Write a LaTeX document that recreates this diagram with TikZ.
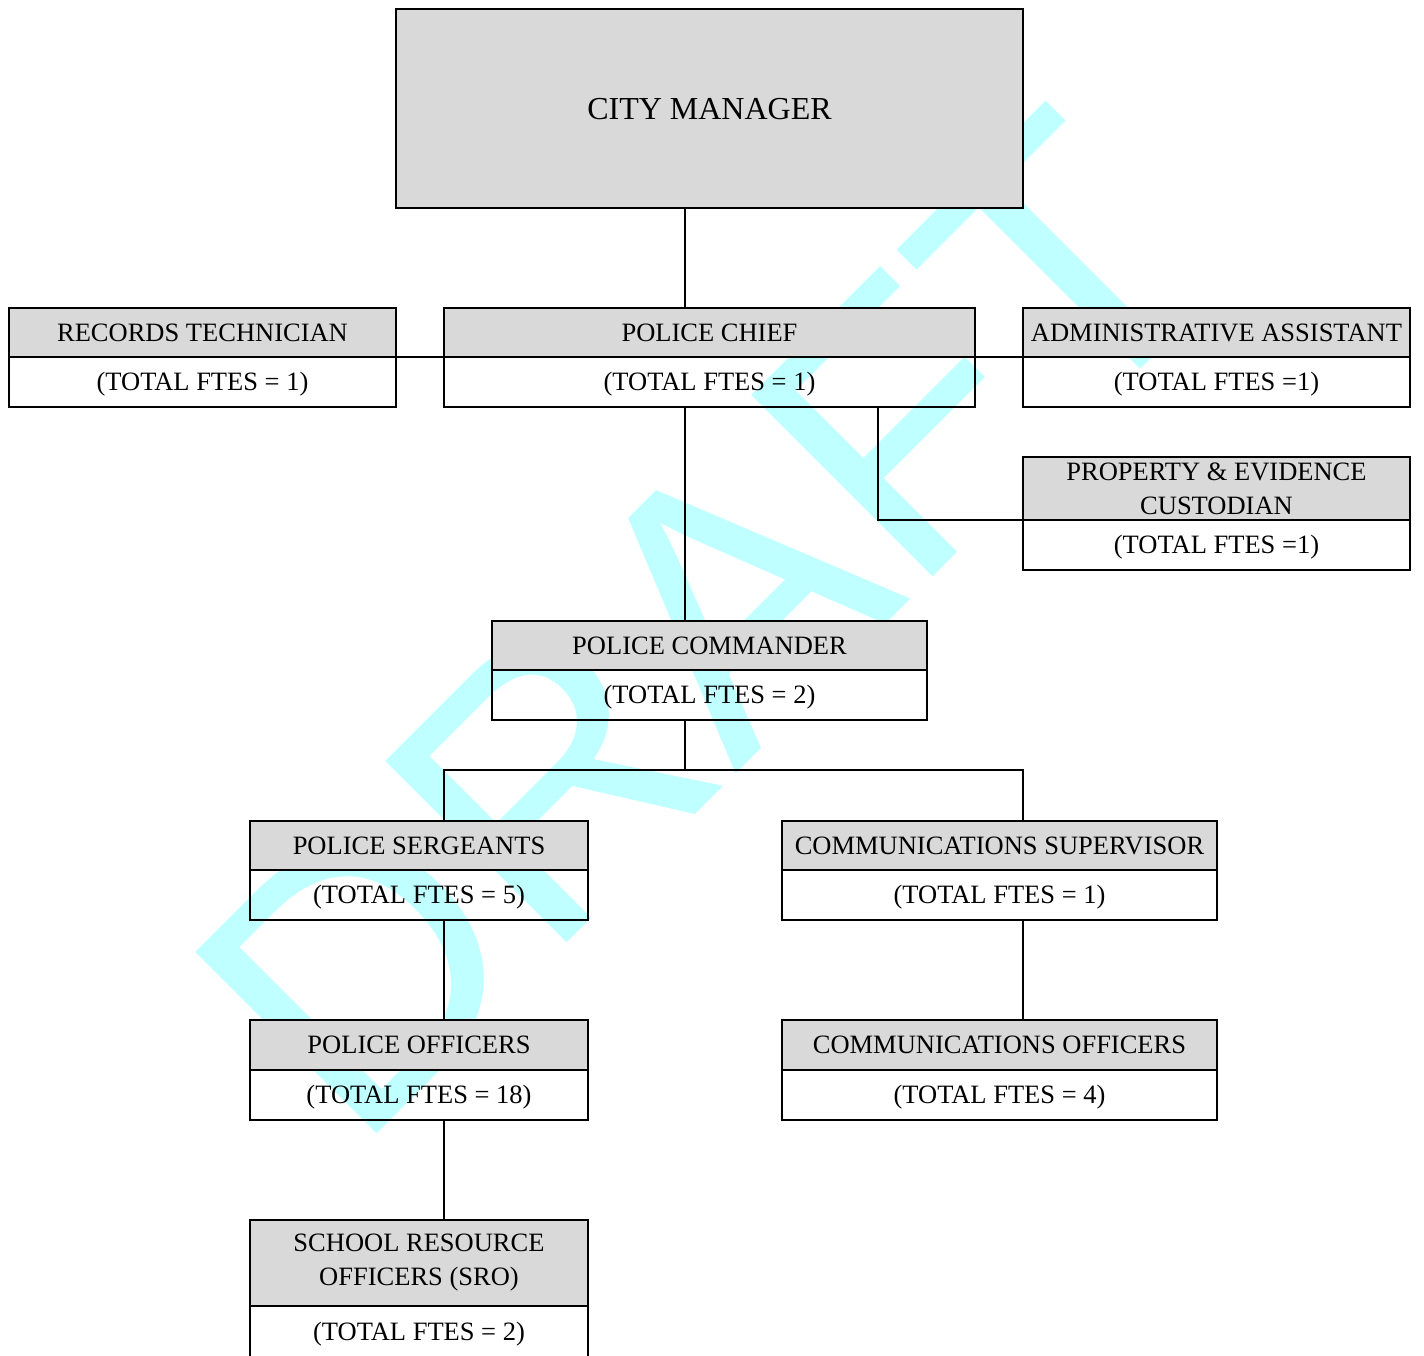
\documentclass[tikz,border=0pt]{standalone}
\usepackage{fontspec}
\setmainfont{Liberation Serif}
\newfontfamily\wmfont{Liberation Sans}
\definecolor{hdrgray}{RGB}{217,217,217}
\definecolor{wmcyan}{RGB}{191,255,255}
\begin{document}
\begin{tikzpicture}[x=1pt,y=-1pt,
  box/.style={draw=black, line width=2pt, inner sep=0pt, outer sep=0pt,
    anchor=north west, font=\fontsize{26.5}{34}\selectfont},
  one/.style={text height=17.5pt, text depth=0pt},
  two/.style={align=center},
  hdr/.style={box, fill=hdrgray},
  body/.style={box, one},
  conn/.style={draw=black, line width=2pt},
  wm/.style={anchor=base west, rotate=45, inner sep=0pt, outer sep=0pt,
    text=wmcyan, font=\wmfont\fontsize{373}{373}\selectfont}
]
\useasboundingbox (0,0) rectangle (1424,1355);
\clip (0,0) rectangle (1424,1355);
\fill[white] (0,0) rectangle (1424,1355);

% watermark
\node[wm] (draft) at (355,1155) {DRAFT};

% boxes
\node[hdr, minimum width=627pt, minimum height=199pt,
  font=\fontsize{32}{38}\selectfont, text height=21.2pt, text depth=0pt]
  (cm) at (396,9) {CITY MANAGER};

\node[hdr, one, minimum width=387pt, minimum height=49pt] (rech) at (9,308) {RECORDS TECHNICIAN};
\node[body, minimum width=387pt, minimum height=50pt] (recb) at (9,357) {(TOTAL FTES = 1)};

\node[hdr, one, minimum width=531pt, minimum height=49pt] (chiefh) at (444,308) {POLICE CHIEF};
\node[body, minimum width=531pt, minimum height=50pt] (chiefb) at (444,357) {(TOTAL FTES = 1)};

\node[hdr, one, minimum width=387pt, minimum height=49pt] (admh) at (1023,308) {ADMINISTRATIVE ASSISTANT};
\node[body, minimum width=387pt, minimum height=50pt] (admb) at (1023,357) {(TOTAL FTES =1)};

\node[hdr, two, minimum width=387pt, minimum height=63pt] (proph) at (1023,457) {PROPERTY \& EVIDENCE\\CUSTODIAN};
\node[body, minimum width=387pt, minimum height=50pt] (propb) at (1023,520) {(TOTAL FTES =1)};

\node[hdr, one, minimum width=435pt, minimum height=49pt] (cmdh) at (492,621) {POLICE COMMANDER};
\node[body, minimum width=435pt, minimum height=50pt] (cmdb) at (492,670) {(TOTAL FTES = 2)};

\node[hdr, one, minimum width=338pt, minimum height=49pt] (sgth) at (250,821) {POLICE SERGEANTS};
\node[body, minimum width=338pt, minimum height=50pt] (sgtb) at (250,870) {(TOTAL FTES = 5)};

\node[hdr, one, minimum width=435pt, minimum height=49pt] (csuph) at (782,821) {COMMUNICATIONS SUPERVISOR};
\node[body, minimum width=435pt, minimum height=50pt] (csupb) at (782,870) {(TOTAL FTES = 1)};

\node[hdr, one, minimum width=338pt, minimum height=50pt] (offh) at (250,1020) {POLICE OFFICERS};
\node[body, minimum width=338pt, minimum height=50pt] (offb) at (250,1070) {(TOTAL FTES = 18)};

\node[hdr, one, minimum width=435pt, minimum height=50pt] (coffh) at (782,1020) {COMMUNICATIONS OFFICERS};
\node[body, minimum width=435pt, minimum height=50pt] (coffb) at (782,1070) {(TOTAL FTES = 4)};

\node[hdr, two, minimum width=338pt, minimum height=86pt] (sroh) at (250,1220) {SCHOOL RESOURCE\\OFFICERS (SRO)};
\node[body, minimum width=338pt, minimum height=52pt] (srob) at (250,1306) {(TOTAL FTES = 2)};

% connector helper coordinates
\coordinate (trunk) at (685,0);
\coordinate (px) at (878,0);
\coordinate (lx) at (444,0);
\coordinate (rx) at (1023,0);
\coordinate (bus) at (685,770);

% connectors
\draw[conn] (trunk |- cm.south) -- (trunk |- chiefh.north);
\draw[conn] (rech.south east) -- (chiefh.south west);
\draw[conn] (chiefh.south east) -- (admh.south west);
\draw[conn] (px |- chiefb.south) |- (proph.south west);
\draw[conn] (trunk |- chiefb.south) -- (trunk |- cmdh.north);
\draw[conn] (trunk |- cmdb.south) -- (bus);
\draw[conn] (lx |- sgth.north) |- (bus) -| (rx |- csuph.north);
\draw[conn] (lx |- sgtb.south) -- (lx |- offh.north);
\draw[conn] (rx |- csupb.south) -- (rx |- coffh.north);
\draw[conn] (lx |- offb.south) -- (lx |- sroh.north);
\end{tikzpicture}
\end{document}
